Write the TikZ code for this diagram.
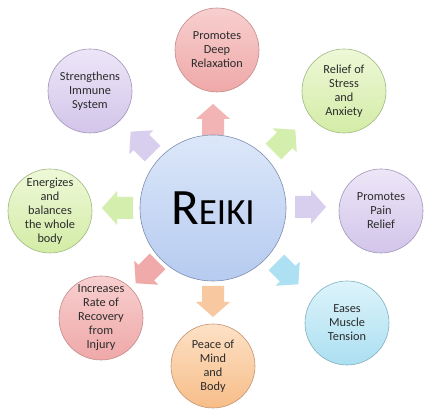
\documentclass[tikz,border=0pt]{standalone}
\usepackage{fontspec}
\setmainfont{Carlito}
\definecolor{txt}{HTML}{2B2B2B}
\definecolor{pinkT}{HTML}{F8CFCF}\definecolor{pinkB}{HTML}{EFA8A8}\definecolor{pinkD}{HTML}{C48A8A}
\definecolor{grnT}{HTML}{EEF8D8}\definecolor{grnB}{HTML}{D3ECA6}\definecolor{grnD}{HTML}{A0B880}
\definecolor{lavT}{HTML}{EDE6F7}\definecolor{lavB}{HTML}{D2C5EA}\definecolor{lavD}{HTML}{A095B8}
\definecolor{cyaT}{HTML}{DDF4FB}\definecolor{cyaB}{HTML}{ABDFF1}\definecolor{cyaD}{HTML}{80AFC0}
\definecolor{oraT}{HTML}{FDE1C6}\definecolor{oraB}{HTML}{F7BD88}\definecolor{oraD}{HTML}{C49370}
\definecolor{bluT}{HTML}{DCE7F9}\definecolor{bluB}{HTML}{B6CBF0}\definecolor{bluD}{HTML}{7D8DAE}
\definecolor{aPink}{HTML}{F2B4B4}\definecolor{aGrn}{HTML}{D4EEAE}\definecolor{aLav}{HTML}{D8CEEE}
\definecolor{aCya}{HTML}{ACE0F2}\definecolor{aOra}{HTML}{F8C9A0}\definecolor{aSal}{HTML}{F0AAAA}
\tikzset{
  outer/.style={circle, minimum size=84pt, inner sep=0pt, line width=0.6pt, align=center,
    text=txt, font=\fontsize{12.3}{14}\selectfont},
  pinkc/.style={outer, draw=pinkD, top color=pinkT, bottom color=pinkB},
  grnc/.style={outer, draw=grnD, top color=grnT, bottom color=grnB},
  lavc/.style={outer, draw=lavD, top color=lavT, bottom color=lavB},
  cyac/.style={outer, draw=cyaD, top color=cyaT, bottom color=cyaB},
  orac/.style={outer, draw=oraD, top color=oraT, bottom color=oraB},
  blockarrow/.pic={\fill (-11,-15) -- (11,-15) -- (11,1) -- (17,1) -- (0,16) -- (-17,1) -- (-11,1) -- cycle;}
}
\begin{document}
\begin{tikzpicture}[x=1pt,y=1pt]
\useasboundingbox[fill=white] (0,0) rectangle (429,414);
% arrows
\pic[rotate=0,   fill=aPink] at (213,294) {blockarrow};
\pic[rotate=-45, fill=aGrn]  at (284,273) {blockarrow};
\pic[rotate=-90, fill=aLav]  at (310,207) {blockarrow};
\pic[rotate=-135,fill=aCya]  at (287,141) {blockarrow};
\pic[rotate=180, fill=aOra]  at (213,113) {blockarrow};
\pic[rotate=135, fill=aSal]  at (147,142) {blockarrow};
\pic[rotate=90,  fill=aGrn]  at (118,206) {blockarrow};
\pic[rotate=45,  fill=aLav]  at (142,271) {blockarrow};
% center
\node[circle, minimum size=146pt, inner sep=0pt, line width=0.6pt, draw=bluD,
  top color=bluT, bottom color=bluB, text=black] (c) at (213,206)
  {\fontsize{51}{51}\selectfont R\fontsize{37}{37}\selectfont EIKI};
% outer circles
\node[pinkc] (n)  at (217,364) {Promotes\\Deep\\Relaxation};
\node[grnc]  (ne) at (344,323) {Relief of\\Stress\\and\\Anxiety};
\node[lavc]  (e)  at (381,203) {Promotes\\Pain\\Relief};
\node[cyac]  (se) at (347,91)  {Eases\\Muscle\\Tension};
\node[orac]  (s)  at (213,48)  {Peace of\\Mind\\and\\Body};
\node[pinkc] (sw) at (101,96)  {Increases\\Rate of\\Recovery\\from\\Injury};
\node[grnc]  (w)  at (50,203)  {Energizes\\and\\balances\\the whole\\body};
\node[lavc]  (nw) at (90,323)  {Strengthens\\Immune\\System};
\end{tikzpicture}
\end{document}
